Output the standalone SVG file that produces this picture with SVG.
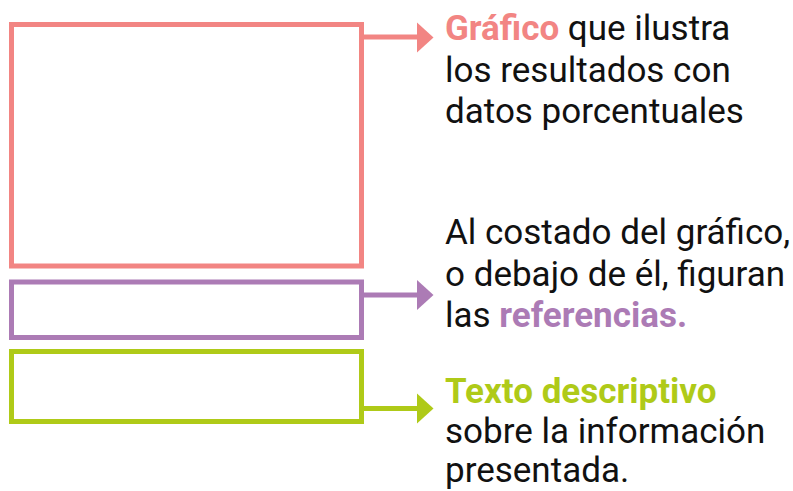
<svg xmlns="http://www.w3.org/2000/svg" width="793" height="491" viewBox="0 0 793 491">
<style>
.box{fill:none;stroke-width:5}
.t{font-family:Roboto,"Liberation Sans",sans-serif;font-size:35px;fill:#111}
.b{font-weight:bold}
.pink{stroke:#F28583}
.purple{stroke:#AC7BB5}
.green{stroke:#AFCA18}
</style>
<rect width="793" height="491" fill="#fff"/>
<g id="grafico">
<rect class="box pink" x="11.5" y="24.5" width="350" height="241.5"/>
<text class="t" x="445" y="40"><tspan class="b" fill="#F28583">Gráfico</tspan> que ilustra</text>
<text class="t" x="445" y="81.5">los resultados con</text>
<text class="t" x="445" y="123">datos porcentuales</text>
</g>
<g id="referencias">
<rect class="box purple" x="11.5" y="282" width="350" height="55.5"/>
<text class="t" x="445" y="244">Al costado del gráfico,</text>
<text class="t" x="445" y="285.5">o debajo de él, figuran</text>
<text class="t" x="445" y="327">las <tspan class="b" fill="#AC7BB5">referencias.</tspan></text>
</g>
<g id="texto">
<rect class="box green" x="11.5" y="351.5" width="350" height="70"/>
<text class="t" x="445" y="403"><tspan class="b" fill="#AFCA18">Texto descriptivo</tspan></text>
<text class="t" x="445" y="443">sobre la información</text>
<text class="t" x="445" y="482">presentada.</text>
</g>
<g id="connectors">
<line class="pink" x1="364" y1="37" x2="418" y2="37" stroke-width="5"/>
<polygon points="417,22.5 433.5,37.5 417,52.5" fill="#F28583"/>
<line class="purple" x1="364" y1="295" x2="418" y2="295" stroke-width="5"/>
<polygon points="417,280 433.5,295 417,310" fill="#AC7BB5"/>
<line class="green" x1="364" y1="408.5" x2="418" y2="408.5" stroke-width="5"/>
<polygon points="417,393.5 433.5,408.5 417,423.5" fill="#AFCA18"/>
</g>
</svg>
